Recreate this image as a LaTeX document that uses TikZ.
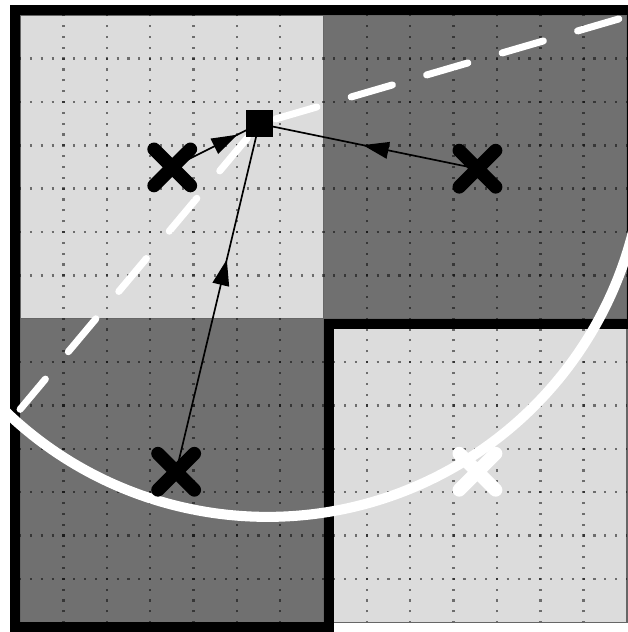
\documentclass[tikz,border=0pt]{standalone}
\usetikzlibrary{arrows.meta,decorations.markings,shapes.misc}
\pgfdeclarelayer{back}
\pgfdeclarelayer{mid}
\pgfsetlayers{back,mid,main}
\definecolor{lightsq}{RGB}{220,220,220}
\definecolor{darksq}{RGB}{112,112,112}
\begin{document}
\begin{tikzpicture}[x=1cm,y=1cm,
  sqbox/.style={fill=#1, draw=black!60, line width=0.7pt},
  griddots/.style={black, opacity=0.5, line width=1.6pt, dash pattern=on 0.05cm off 0.2cm, dash phase=0.025cm},
  frameline/.style={line width=6.56pt, line join=miter},
  bound/.style={white, line width=4.6pt, line cap=round, line join=round, dash pattern=on 28.2pt off 23.4pt, dash phase=46pt},
  circline/.style={white, line width=6.6pt},
  xmark/.style={cross out, draw=#1, line width=8.8pt, line cap=round, minimum size=0.84cm, inner sep=0pt, outer sep=0pt},
  msq/.style={fill=black, minimum size=0.617cm, inner sep=0pt},
  link/.style={line width=1.1pt, postaction={decorate}, decoration={markings, mark=at position #1 with {\arrow{Triangle[length=17pt,width=11pt]}}}}
]
\path[use as bounding box] (-0.463,-0.226) rectangle (14.0,14.352);

% nodes
\node[xmark=black] (tl) at (3.51,10.49) {};
\node[xmark=black] (tr) at (10.55,10.46) {};
\node[xmark=black] (bl) at (3.6,3.47) {};
\node[xmark=white] (br) at (10.55,3.47) {};
\node[msq] (sq) at (5.516,11.497) {};
\coordinate (bA) at (14,13.97);
\coordinate (bB) at (0,4.91);

\begin{pgfonlayer}{back}
  \path[sqbox=lightsq] (0,7) rectangle (7,14);
  \path[sqbox=darksq] (7,7) rectangle (14,14);
  \path[sqbox=darksq] (0,0) rectangle (7,7);
  \path[sqbox=lightsq] (7,0) rectangle (14,7);
  \foreach \i in {1,2,3,4,5,6,8,9,10,11,12,13} {
    \draw[griddots] (\i,0) -- (\i,14);
    \draw[griddots] (0,\i) -- (14,\i);
  }
  \draw[frameline] (-0.1157,-0.1157) -- (-0.1157,14.1157) -- (14.1157,14.1157)
     -- (14.1157,6.8843) -- (7.1157,6.8843) -- (7.1157,-0.1157) -- cycle;
  \draw[bound] (bA) -- (sq.center) -- (bB);
  \draw[circline] (5.7,11.13) ++(215:8.7) arc[start angle=215, end angle=355, radius=8.7];
\end{pgfonlayer}

\begin{pgfonlayer}{mid}
  \draw[link=0.75] (tl.center) -- (sq.center);
  \draw[link=0.525] (tr.center) -- (sq.center);
  \draw[link=0.61] (bl.center) -- (sq.center);
\end{pgfonlayer}
\end{tikzpicture}
\end{document}
